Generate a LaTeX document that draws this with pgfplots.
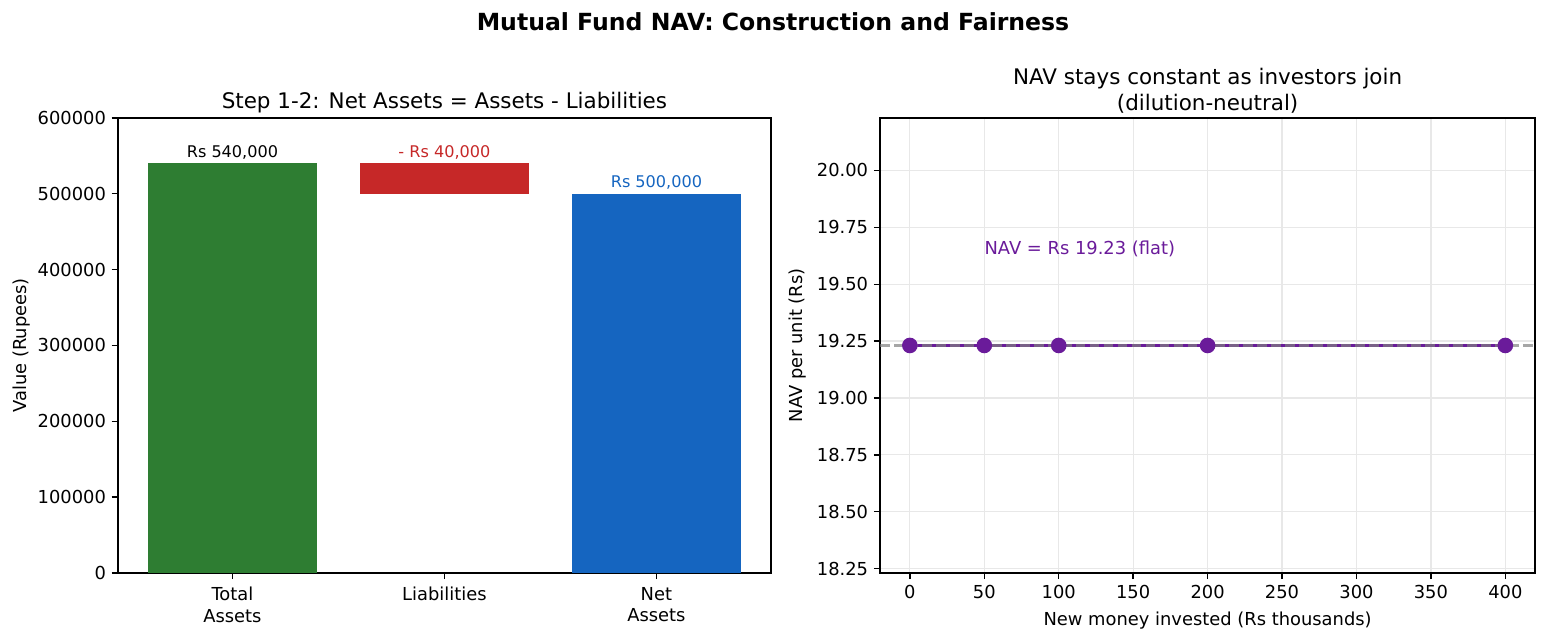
\documentclass[border=0pt]{standalone}
\usepackage{pgfplots}
\pgfplotsset{compat=1.18}
\usepackage{fontspec}
\setmainfont{DejaVu Sans}

\definecolor{assetgreen}{HTML}{2E7D32}
\definecolor{liabred}{HTML}{C62828}
\definecolor{netblue}{HTML}{1565C0}
\definecolor{navpurple}{HTML}{6A1B9A}
\definecolor{gridgray}{RGB}{232,232,232}

\pgfplotsset{
  panel/.style={
    scale only axis,
    anchor=south west,
    axis line style={line width=0.85pt},
    every tick/.style={black, line width=0.85pt},
    tick align=outside,
    major tick length=3.85pt,
    xtick pos=left, ytick pos=left,
    tick label style={font=\fontsize{11}{13.2}\selectfont},
    label style={font=\fontsize{11}{13.2}\selectfont},
    title style={font=\fontsize{13.2}{15.8}\selectfont, align=center, yshift=-6.5pt},
    /pgf/number format/assume math mode=true,
  }
}

\begin{document}
\begin{tikzpicture}
\path[use as bounding box] (0,0) rectangle (951.4pt,395.7pt);

% overall heading
\node[font=\bfseries\fontsize{14.5}{17.4}\selectfont] at (475.7pt,382.2pt)
  {Mutual Fund NAV: Construction and Fairness};

% left panel: waterfall from total assets to net assets
\begin{axis}[panel,
  at={(72.6pt,43.1pt)}, width=401.8pt, height=280pt,
  xmin=-0.54, xmax=2.54, ymin=0, ymax=600000,
  xtick={0,1,2},
  xticklabels={{Total\\Assets}, Liabilities, {Net\\Assets}},
  xticklabel style={align=center, yshift=-1.5pt},
  ytick={0,100000,200000,300000,400000,500000,600000},
  scaled y ticks=false,
  yticklabel style={/pgf/number format/fixed, /pgf/number format/1000 sep={}},
  ylabel={Value (Rupees)},
  ylabel style={yshift=-2.5pt},
  title={Step 1-2: Net Assets = Assets - Liabilities},
]
\addplot[ybar, bar width=0.8, bar shift=0, fill=assetgreen, draw=none]
  coordinates {(0,540000)};
\addplot[ybar, bar width=0.8, bar shift=0, fill=netblue, draw=none]
  coordinates {(2,500000)};
% liabilities hang from the top of total assets
\addplot[fill=liabred, draw=none]
  coordinates {(0.6,500000) (1.4,500000) (1.4,540000) (0.6,540000)} -- cycle;

\node[anchor=south, inner sep=0pt, font=\fontsize{9.9}{12}\selectfont]
  at (axis cs:0,545000) {Rs 540,000};
\node[anchor=south, inner sep=0pt, font=\fontsize{9.9}{12}\selectfont, text=liabred]
  at (axis cs:1,545000) {- Rs 40,000};
\node[anchor=south, inner sep=0pt, font=\fontsize{9.9}{12}\selectfont, text=netblue]
  at (axis cs:2,505000) {Rs 500,000};
\end{axis}

% right panel: NAV per unit as money flows in
\begin{axis}[panel,
  at={(541.6pt,43.1pt)}, width=403.1pt, height=280pt,
  xmin=-20, xmax=420, ymin=18.2308, ymax=20.2308,
  xtick={0,50,100,150,200,250,300,350,400},
  ytick={18.25,18.5,18.75,19,19.25,19.5,19.75,20},
  yticklabel style={/pgf/number format/fixed, /pgf/number format/fixed zerofill,
    /pgf/number format/precision=2},
  grid=major, major grid style={gridgray, line width=0.75pt},
  xlabel={New money invested (Rs thousands)},
  xlabel style={yshift=-1.5pt},
  ylabel={NAV per unit (Rs)},
  title={NAV stays constant as investors join\\(dilution-neutral)},
]
\addplot[navpurple, line width=2.2pt, mark=*, mark size=4.3pt,
  mark options={fill=navpurple, draw=navpurple, line width=1pt, solid}]
  coordinates {(0,19.2308) (50,19.2308) (100,19.2308) (200,19.2308) (400,19.2308)};
\addplot[gray, draw opacity=0.7, line width=1.6pt, dash pattern=on 6pt off 2.6pt]
  coordinates {(-20,19.2308) (420,19.2308)};
\node[anchor=base west, inner sep=0pt, text=navpurple, font=\fontsize{11}{13.2}\selectfont]
  at (axis cs:50,19.6308) {NAV = Rs 19.23 (flat)};
\end{axis}
\end{tikzpicture}
\end{document}
